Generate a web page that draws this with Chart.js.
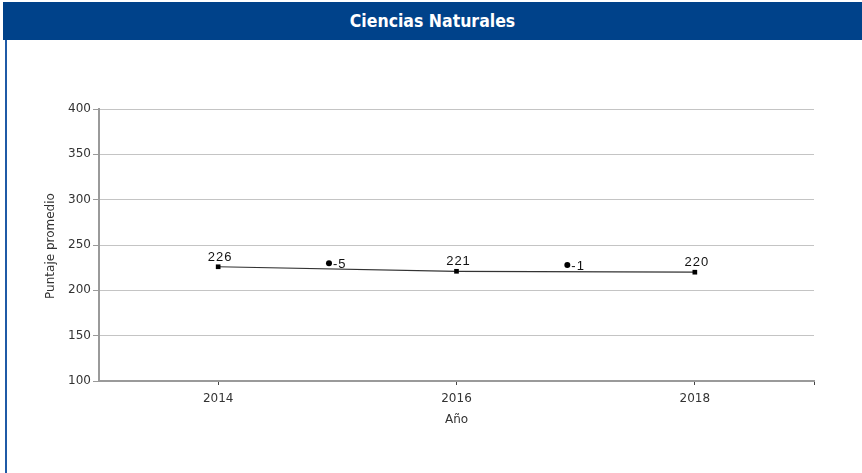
<!DOCTYPE html>
<html>
<head>
<meta charset="utf-8">
<script src="https://cdn.jsdelivr.net/npm/chart.js@4/dist/chart.umd.min.js"></script>
<style>
html,body{margin:0;padding:0;background:#fff;width:862px;height:473px;overflow:hidden;}
#header{position:absolute;left:3px;top:2px;width:859px;height:38px;background:#00428a;color:#fff;
 font-family:'DejaVu Sans Condensed','Liberation Sans Narrow',sans-serif;font-weight:bold;font-size:17.5px;
 text-align:center;line-height:38px;}
#lborder{position:absolute;left:5px;top:40px;width:2px;height:433px;background:#1f5aa6;}
#wrap{position:absolute;left:0;top:0;width:862px;height:473px;}
</style>
</head>
<body>
<div id="wrap"><canvas id="c" width="862" height="473"></canvas></div>
<div id="header">Ciencias Naturales</div>
<div id="lborder"></div>
<script>
const years = [2014, 2016, 2018];
const scores = [226, 221, 220];
const diffPositions = [2015, 2017];
const diffValues = [-5, -1];
const diffLevels = [230, 228];
const yTicks = [100, 150, 200, 250, 300, 350, 400];
const xTicks = [2014, 2016, 2018, 2019];
const yTitle = 'Puntaje promedio';
const xTitle = 'Año';

const AXIS_FONT = '"DejaVu Sans", sans-serif';

const labelPlugin = {
  id: 'labels',
  afterDraw(chart) {
    const ctx = chart.ctx;
    const area = chart.chartArea;
    ctx.save();
    ctx.fillStyle = '#111';
    ctx.font = '13px "Liberation Sans", Arial, sans-serif';
    try { ctx.letterSpacing = '1px'; } catch (e) {}
    const m0 = chart.getDatasetMeta(0);
    m0.data.forEach((p, i) => {
      ctx.textAlign = 'center';
      ctx.textBaseline = 'alphabetic';
      ctx.fillText(String(scores[i]), p.x + 2, p.y - 6);
    });
    const m1 = chart.getDatasetMeta(1);
    m1.data.forEach((p, i) => {
      ctx.textAlign = 'left';
      ctx.textBaseline = 'middle';
      ctx.fillText(String(diffValues[i]), p.x + 4, p.y + 1);
    });
    try { ctx.letterSpacing = '0px'; } catch (e) {}
    // axis titles
    ctx.fillStyle = '#333';
    ctx.font = '12px ' + AXIS_FONT;
    ctx.textAlign = 'center';
    ctx.textBaseline = 'middle';
    ctx.fillText(xTitle, (area.left + area.right) / 2, 420);
    ctx.translate(51, (area.top + area.bottom) / 2 + 1);
    ctx.rotate(-Math.PI / 2);
    ctx.fillText(yTitle, 0, 0);
    ctx.restore();
  }
};

new Chart(document.getElementById('c'), {
  type: 'line',
  data: {
    datasets: [
      {
        data: years.map((y, i) => ({x: y, y: scores[i]})),
        borderColor: '#333',
        borderWidth: 1.2,
        pointStyle: 'rect',
        pointRadius: 3.3,
        pointBackgroundColor: '#000',
        pointBorderColor: '#000',
        pointBorderWidth: 0,
        tension: 0
      },
      {
        data: diffPositions.map((x, i) => ({x: x - 0.07, y: diffLevels[i]})),
        showLine: false,
        pointStyle: 'circle',
        pointRadius: 3,
        pointBackgroundColor: '#000',
        pointBorderColor: '#000',
        pointBorderWidth: 0
      }
    ]
  },
  options: {
    responsive: false,
    animation: false,
    devicePixelRatio: 1,
    layout: {padding: {left: 0, top: 109, right: 48, bottom: 0}},
    plugins: {legend: {display: false}, tooltip: {enabled: false}},
    scales: {
      x: {
        type: 'linear',
        min: 2013, max: 2019,
        afterBuildTicks(s) { s.ticks = xTicks.map(v => ({value: v})); },
        afterFit(s) { s.height = 92; },
        ticks: {
          color: '#333',
          font: {family: AXIS_FONT, size: 12},
          padding: 7,
          maxRotation: 0,
          callback: v => (v === 2019 ? '' : String(v))
        },
        grid: {display: true, drawOnChartArea: false, drawTicks: true, tickLength: 4, color: '#444', lineWidth: 1},
        border: {display: true, color: '#9a9a9a', width: 2},
        title: {display: false}
      },
      y: {
        min: 100, max: 400,
        afterBuildTicks(s) { s.ticks = yTicks.map(v => ({value: v})); },
        afterFit(s) { s.width = 99; },
        ticks: {
          color: '#333',
          font: {family: AXIS_FONT, size: 12},
          padding: 2
        },
        grid: {color: '#c4c4c4', lineWidth: 1, tickLength: 6, tickColor: '#9a9a9a'},
        border: {display: true, color: '#9a9a9a', width: 2},
        title: {display: false}
      }
    }
  },
  plugins: [labelPlugin]
});
</script>
</body>
</html>
